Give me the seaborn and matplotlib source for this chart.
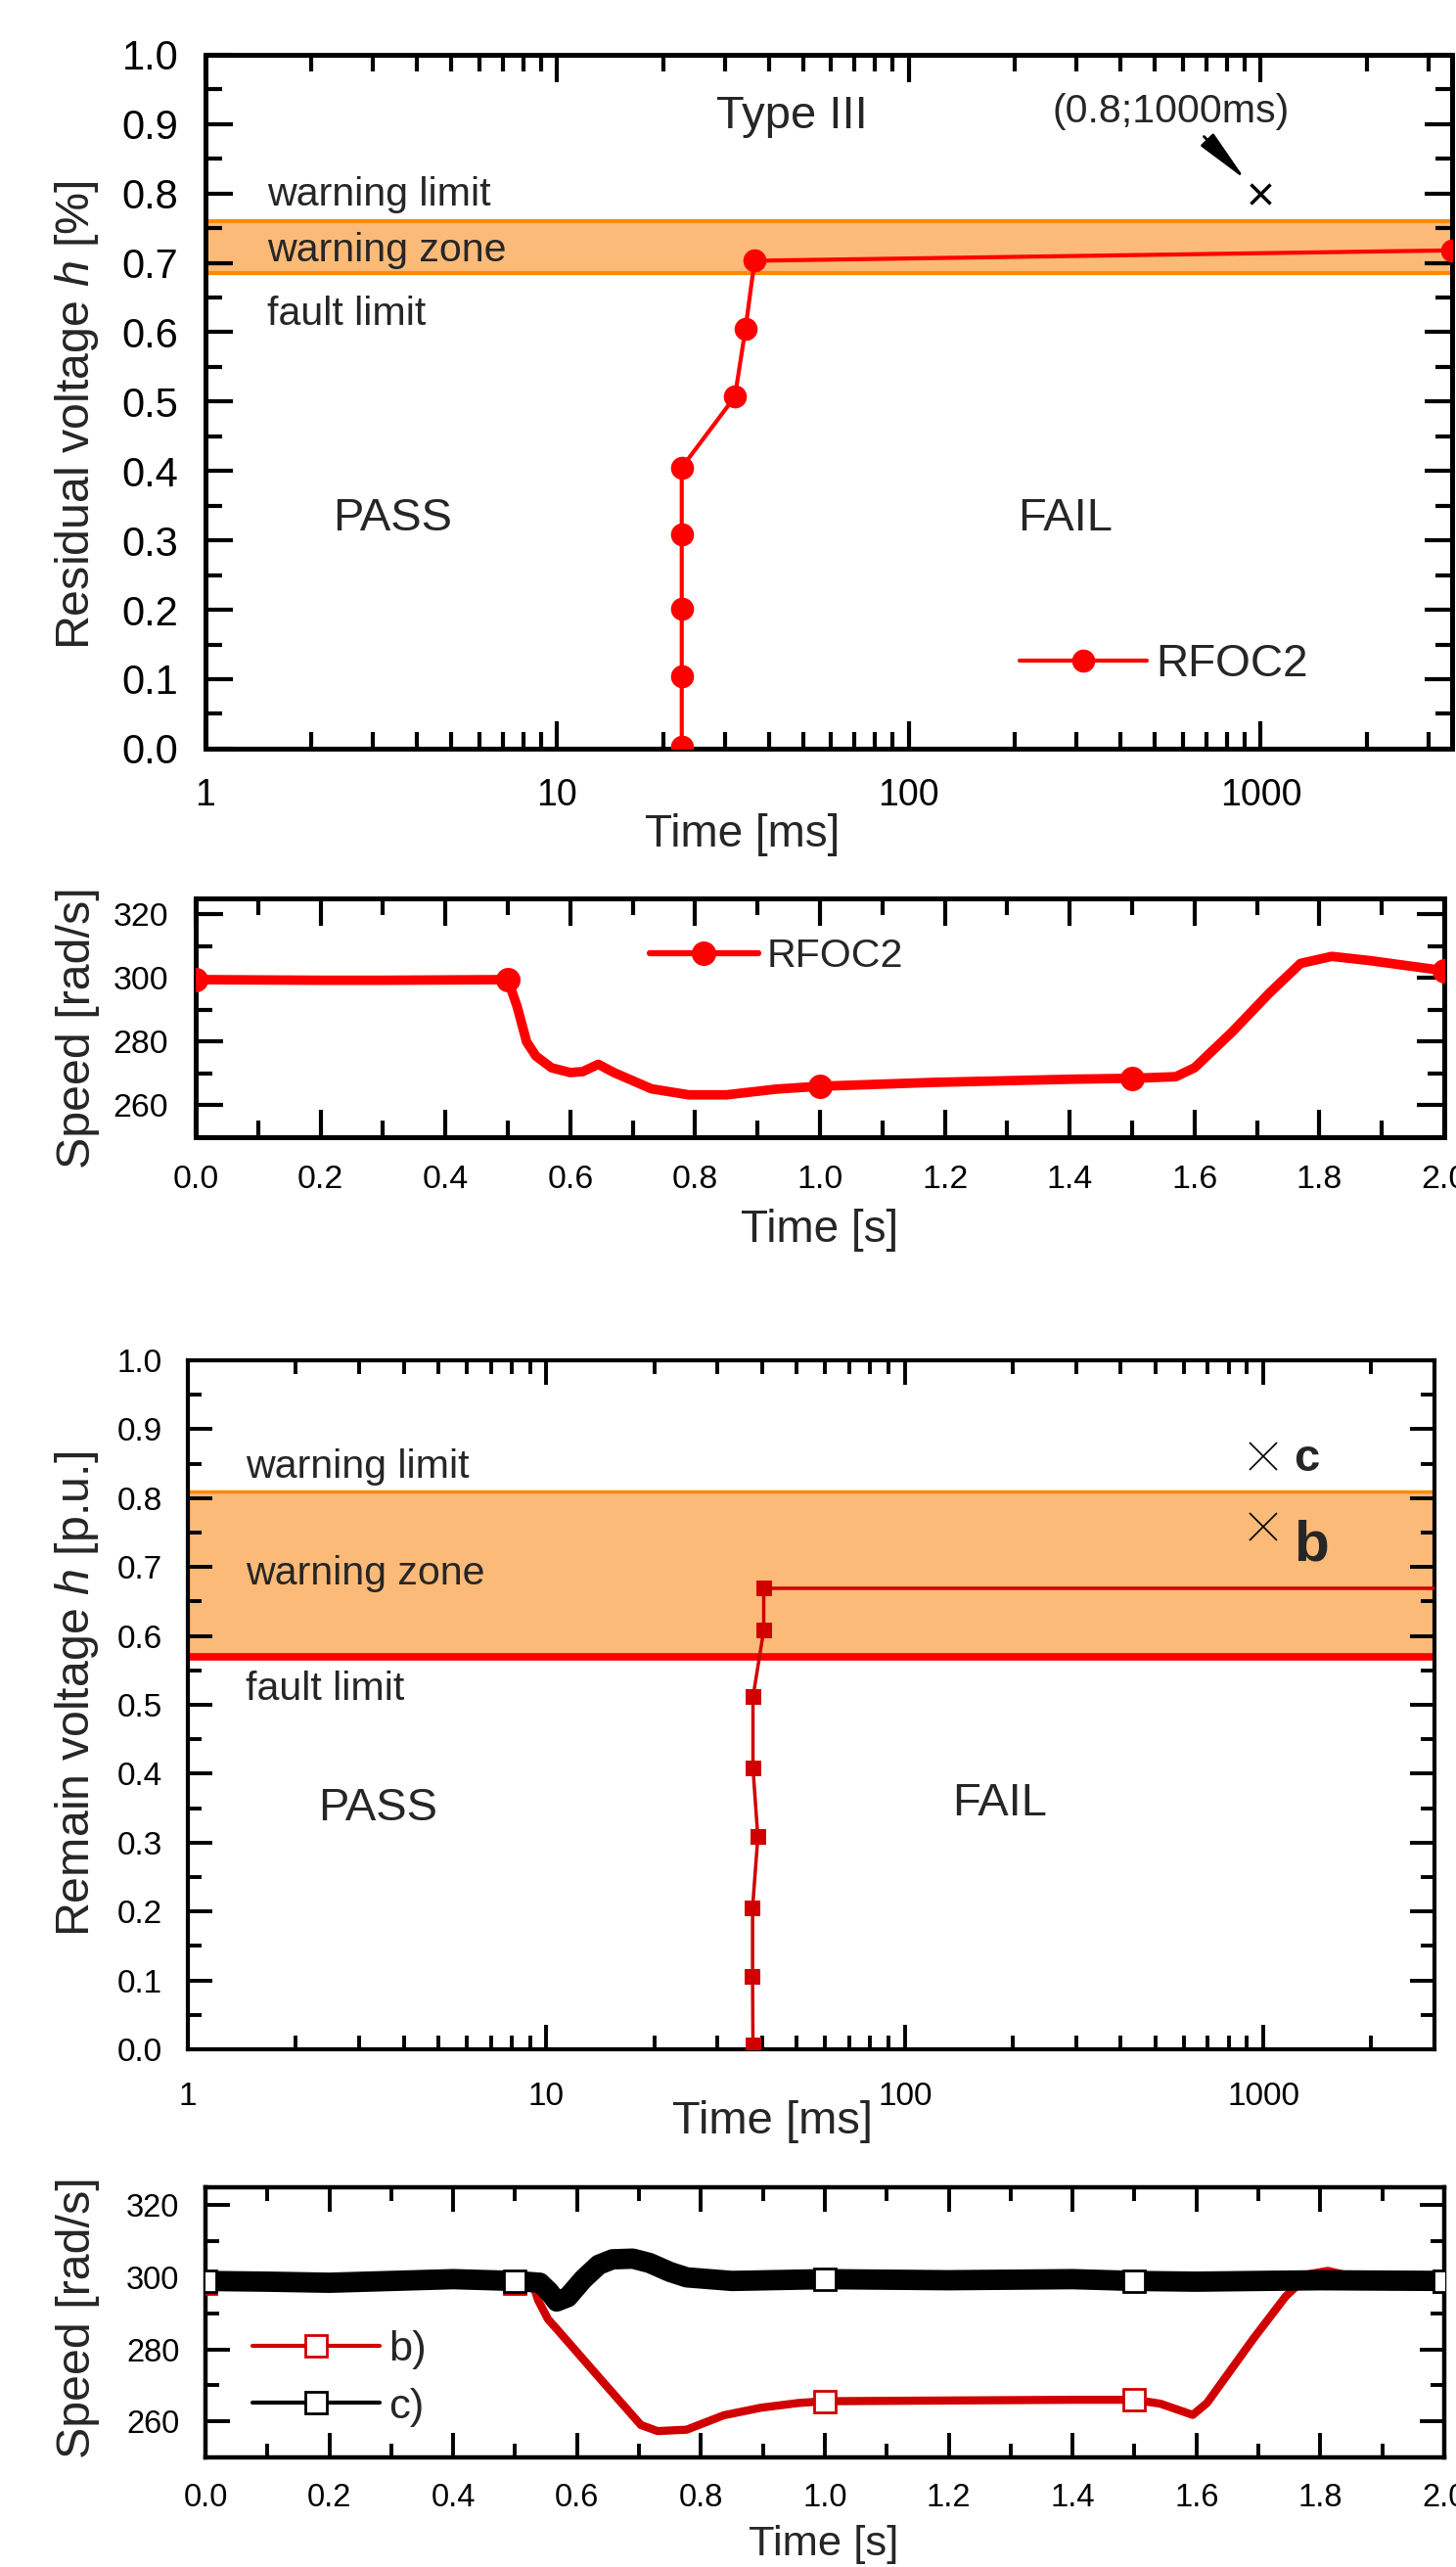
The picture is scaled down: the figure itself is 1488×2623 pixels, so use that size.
import numpy as np
import pandas as pd
import matplotlib
matplotlib.use("Agg")
import matplotlib.pyplot as plt
from matplotlib import font_manager
from matplotlib.ticker import (FixedLocator, LogLocator, MultipleLocator,
                               NullFormatter, FormatStrFormatter, FixedFormatter)
import seaborn as sns

# ---------------- data ----------------
# Type III residual-voltage ride-through curve (RFOC2)
rfoc2_time_ms = [22.6, 22.6, 22.6, 22.6, 22.6, 32.0, 34.3, 36.4, 3500.0]
rfoc2_h = [0.002, 0.104, 0.202, 0.308, 0.405, 0.507, 0.605, 0.703, 0.718]
type3_zone = [0.685, 0.76]            # fault limit, warning limit
type3_point_ms = [1000.0]
type3_point_h = [0.8]

# rotor speed, RFOC2
speed_rfoc2_t = [0.0, 0.1, 0.2, 0.3, 0.4, 0.5, 0.515, 0.53, 0.545, 0.57, 0.6,
                 0.62, 0.645, 0.67, 0.73, 0.79, 0.85, 0.93, 1.0, 1.18, 1.4,
                 1.5, 1.57, 1.6, 1.66, 1.72, 1.77, 1.82, 1.88, 2.0]
speed_rfoc2_v = [299.5, 299.4, 299.3, 299.3, 299.4, 299.5, 291.0, 280.0, 275.5,
                 271.8, 270.3, 270.6, 272.9, 270.3, 265.2, 263.3, 263.3, 265.1,
                 266.0, 267.2, 268.2, 268.5, 269.0, 271.8, 283.0, 295.3, 304.6,
                 306.8, 305.5, 302.3]

# remain-voltage ride-through curve
remain_time_ms = [37.7, 37.6, 37.6, 38.9, 37.7, 37.7, 40.4, 40.4, 3000.0]
remain_h = [0.005, 0.105, 0.205, 0.308, 0.408, 0.511, 0.608, 0.669, 0.669]
remain_zone = [0.57, 0.81]            # fault limit, warning limit
case_ms = [1000.0, 1000.0]
case_h = [0.86, 0.758]
case_names = ["c", "b"]

# rotor speed, cases b) and c)
speed_b_t = [0.0, 0.1, 0.2, 0.3, 0.4, 0.5, 0.53, 0.537, 0.553, 0.567, 0.635,
             0.703, 0.73, 0.777, 0.837, 0.897, 0.957, 1.0, 1.2, 1.4, 1.5,
             1.542, 1.594, 1.617, 1.692, 1.744, 1.782, 1.812, 1.857, 1.9, 2.0]
speed_b_v = [298.5, 298.3, 298.5, 298.3, 298.5, 298.5, 297.5, 293.7, 288.4,
             285.7, 272.3, 259.0, 257.3, 257.7, 261.7, 263.8, 265.1, 265.6,
             265.8, 266.0, 266.0, 264.9, 261.8, 265.1, 283.0, 294.7, 300.9,
             301.8, 300.0, 299.2, 299.0]
speed_c_t = [0.0, 0.1, 0.2, 0.3, 0.4, 0.5, 0.54, 0.555, 0.567, 0.585, 0.61,
             0.635, 0.657, 0.69, 0.717, 0.75, 0.777, 0.85, 1.0, 1.2, 1.4, 1.5,
             1.6, 1.8, 2.0]
speed_c_v = [299.0, 298.8, 298.5, 299.0, 299.5, 299.0, 298.5, 296.0, 293.3,
             294.5, 299.5, 303.5, 305.0, 305.2, 304.0, 301.5, 300.0, 299.0,
             299.5, 299.2, 299.5, 299.0, 298.8, 299.2, 299.0]
marker_times = [0.0, 0.5, 1.0, 1.5, 2.0]

# ---------------- style ----------------
sns.set_style("ticks")
names = {f.name for f in font_manager.fontManager.ttflist}
NARROW = "Liberation Sans Narrow" if "Liberation Sans Narrow" in names else "Liberation Sans"
WIDE = "Liberation Sans"
# without a condensed face, the condensed labels are set a little smaller
K = 1.0 if NARROW != WIDE else 0.87
plt.rcParams["font.family"] = [NARROW, "DejaVu Sans"]
plt.rcParams["mathtext.fontset"] = "custom"
plt.rcParams["mathtext.rm"] = NARROW
plt.rcParams["mathtext.it"] = NARROW + ":italic"

RED = "#ff0000"
DARK_RED = "#d00000"
ZONE_FILL = "#fcba78"
ZONE_EDGE = "#ff8a00"

fig = plt.figure(figsize=(14.88, 26.23), dpi=100)
fig.patch.set_facecolor("white")


def frame(ax, spine_w=3.6, major=20, minor=12, tick_w=3.0):
    for s in ax.spines.values():
        s.set_visible(True)
        s.set_linewidth(spine_w)
        s.set_color("black")
    ax.tick_params(which="both", direction="in", top=True, right=True,
                   width=tick_w, colors="black")
    ax.tick_params(which="major", length=major)
    ax.tick_params(which="minor", length=minor)
    ax.set_facecolor("white")


def marker_idx(t):
    return [i for i, v in enumerate(t) if any(abs(v - m) < 1e-9 for m in marker_times)]


# ---------------- panel 1: residual voltage ----------------
ax1 = fig.add_axes([0.1411, 0.7084, 0.8562, 0.2703])
ax1.set_xscale("log")
ax1.set_xlim(1, 3500)
ax1.set_ylim(0, 1)
ax1.axhspan(type3_zone[0], type3_zone[1], color=ZONE_FILL, zorder=0, lw=0)
for yv in type3_zone:
    ax1.axhline(yv, color=ZONE_EDGE, lw=3, zorder=1)
sns.lineplot(x=rfoc2_time_ms, y=rfoc2_h, ax=ax1, estimator=None, sort=False,
             color=RED, lw=3, marker="o", markersize=17, markeredgewidth=0,
             label="RFOC2", zorder=5)
ax1.plot(type3_point_ms, type3_point_h, ls="none", marker="x", color="black",
         markersize=15, markeredgewidth=2.5, zorder=6)
ax1.annotate("", xy=(905, 0.82), xytext=(690, 0.882),
             arrowprops=dict(arrowstyle="-|>,head_length=1.7,head_width=0.28",
                             color="black", lw=2, shrinkA=0, shrinkB=0,
                             mutation_scale=20))
ax1.text(554, 0.902, "(0.8;1000ms)", ha="center", va="baseline", fontsize=34 * K)
ax1.text(46.6, 0.894, "Type III", ha="center", va="baseline", fontsize=39 * K)
ax1.text(1.5, 0.782, "warning limit", ha="left", va="baseline", fontsize=34 * K)
ax1.text(1.5, 0.702, "warning zone", ha="left", va="baseline", fontsize=34 * K)
ax1.text(1.5, 0.611, "fault limit", ha="left", va="baseline", fontsize=34 * K)
ax1.text(3.4, 0.315, "PASS", ha="center", va="baseline", fontsize=39 * K)
ax1.text(279, 0.315, "FAIL", ha="center", va="baseline", fontsize=39 * K)

frame(ax1)
ax1.xaxis.set_major_locator(FixedLocator([1, 10, 100, 1000]))
ax1.xaxis.set_major_formatter(FixedFormatter(["1", "10", "100", "1000"]))
ax1.xaxis.set_minor_locator(LogLocator(base=10, subs=np.arange(2, 10), numticks=30))
ax1.xaxis.set_minor_formatter(NullFormatter())
ax1.yaxis.set_major_locator(MultipleLocator(0.1))
ax1.yaxis.set_minor_locator(MultipleLocator(0.05))
ax1.yaxis.set_major_formatter(FormatStrFormatter("%.1f"))
ax1.tick_params(axis="y", which="major", labelsize=30, pad=20, labelfontfamily=WIDE)
ax1.tick_params(axis="x", which="major", labelsize=27, pad=22, labelfontfamily=WIDE)
ax1.set_xlabel("Time [ms]", fontsize=38 * K)
ax1.xaxis.set_label_coords(0.431, -0.093)
ax1.set_ylabel("Residual voltage $h$ [%]", fontsize=40 * K)
ax1.yaxis.set_label_coords(-0.084, 0.48)
fs = 38 * K
leg = ax1.legend(loc="center left", bbox_to_anchor=(0.653, 0.121), frameon=False,
                 fontsize=fs, handlelength=130 / (fs * 100 / 72),
                 handletextpad=0.2, borderpad=0, borderaxespad=0)

# ---------------- panel 2: speed RFOC2 ----------------
ax2 = fig.add_axes([0.1344, 0.5570, 0.8575, 0.0930])
ax2.set_xlim(0, 2.0)
ax2.set_ylim(250, 325)
sns.lineplot(x=speed_rfoc2_t, y=speed_rfoc2_v, ax=ax2, estimator=None, sort=False,
             color=RED, lw=7, marker="o", markersize=18, markeredgewidth=0,
             markevery=marker_idx(speed_rfoc2_t), label="RFOC2", zorder=5)
frame(ax2)
ax2.xaxis.set_major_locator(MultipleLocator(0.2))
ax2.xaxis.set_minor_locator(MultipleLocator(0.1))
ax2.xaxis.set_major_formatter(FormatStrFormatter("%.1f"))
ax2.yaxis.set_major_locator(MultipleLocator(20))
ax2.yaxis.set_minor_locator(MultipleLocator(10))
ax2.tick_params(axis="both", which="major", labelsize=28 * K, pad=20)
ax2.set_xlabel("Time [s]", fontsize=38 * K)
ax2.xaxis.set_label_coords(0.5, -0.30)
ax2.set_ylabel("Speed [rad/s]", fontsize=40 * K)
ax2.yaxis.set_label_coords(-0.077, 0.459)
fs = 34 * K
leg2 = ax2.legend(loc="center left", bbox_to_anchor=(0.3636, 0.758), frameon=False,
                  fontsize=fs, handlelength=111 / (fs * 100 / 72),
                  handletextpad=0.2, borderpad=0, borderaxespad=0)
for ln in leg2.get_lines():
    ln.set_linewidth(4.5)

# ---------------- panel 3: remain voltage ----------------
ax3 = fig.add_axes([0.1290, 0.2017, 0.8562, 0.2684])
ax3.set_xscale("log")
ax3.set_xlim(1, 3000)
ax3.set_ylim(0, 1)
ax3.axhspan(remain_zone[0], remain_zone[1], color=ZONE_FILL, zorder=0, lw=0)
ax3.axhline(remain_zone[1], color=ZONE_EDGE, lw=2.5, zorder=1)
ax3.axhline(remain_zone[0], color=RED, lw=5.5, zorder=1)
sns.lineplot(x=remain_time_ms, y=remain_h, ax=ax3, estimator=None, sort=False,
             color=DARK_RED, lw=2.5, marker="s", markersize=12, markeredgewidth=0,
             markevery=list(range(len(remain_h) - 1)), zorder=5)
ax3.plot(case_ms, case_h, ls="none", marker="x", color="black",
         markersize=20, markeredgewidth=1.2, zorder=6)
ax3.text(1216, 0.84, case_names[0], ha="left", va="baseline", fontsize=34,
         fontweight="bold", family=WIDE)
ax3.text(1216, 0.709, case_names[1], ha="left", va="baseline", fontsize=42,
         fontweight="bold", family=WIDE)
ax3.text(1.45, 0.83, "warning limit", ha="left", va="baseline", fontsize=34 * K)
ax3.text(1.45, 0.675, "warning zone", ha="left", va="baseline", fontsize=34 * K)
ax3.text(1.45, 0.507, "fault limit", ha="left", va="baseline", fontsize=34 * K)
ax3.text(3.39, 0.332, "PASS", ha="center", va="baseline", fontsize=39 * K)
ax3.text(184, 0.339, "FAIL", ha="center", va="baseline", fontsize=39 * K)

frame(ax3, spine_w=3.0, major=18, minor=10, tick_w=2.8)
ax3.xaxis.set_major_locator(FixedLocator([1, 10, 100, 1000]))
ax3.xaxis.set_major_formatter(FixedFormatter(["1", "10", "100", "1000"]))
ax3.xaxis.set_minor_locator(LogLocator(base=10, subs=np.arange(2, 10), numticks=30))
ax3.xaxis.set_minor_formatter(NullFormatter())
ax3.yaxis.set_major_locator(MultipleLocator(0.1))
ax3.yaxis.set_minor_locator(MultipleLocator(0.05))
ax3.yaxis.set_major_formatter(FormatStrFormatter("%.1f"))
ax3.tick_params(axis="both", which="major", labelsize=24, pad=19, labelfontfamily=WIDE)
ax3.tick_params(axis="x", which="major", pad=24)
ax3.set_xlabel("Time [ms]", fontsize=39 * K)
ax3.xaxis.set_label_coords(0.469, -0.074)
ax3.set_ylabel("Remain voltage $h$ [p.u.]", fontsize=40 * K)
ax3.yaxis.set_label_coords(-0.070, 0.516)

# ---------------- panel 4: speed cases b) and c) ----------------
ax4 = fig.add_axes([0.1411, 0.0427, 0.8508, 0.1052])
ax4.set_xlim(0, 2.0)
ax4.set_ylim(250, 325)
sns.lineplot(x=speed_b_t, y=speed_b_v, ax=ax4, estimator=None, sort=False,
             color=DARK_RED, lw=6, marker="s", markersize=16, markeredgewidth=2,
             markerfacecolor="white", markeredgecolor=DARK_RED,
             markevery=marker_idx(speed_b_t), label="b)", zorder=4)
sns.lineplot(x=speed_c_t, y=speed_c_v, ax=ax4, estimator=None, sort=False,
             color="black", lw=15, marker="s", markersize=16, markeredgewidth=2,
             markerfacecolor="white", markeredgecolor="black",
             markevery=marker_idx(speed_c_t), label="c)", zorder=5)
frame(ax4, spine_w=3.2, major=18, minor=10, tick_w=2.8)
ax4.xaxis.set_major_locator(MultipleLocator(0.2))
ax4.xaxis.set_minor_locator(MultipleLocator(0.1))
ax4.xaxis.set_major_formatter(FormatStrFormatter("%.1f"))
ax4.yaxis.set_major_locator(MultipleLocator(20))
ax4.yaxis.set_minor_locator(MultipleLocator(10))
ax4.tick_params(axis="both", which="major", labelsize=27 * K, pad=19)
ax4.set_xlabel("Time [s]", fontsize=36 * K)
ax4.xaxis.set_label_coords(0.499, -0.25)
ax4.set_ylabel("Speed [rad/s]", fontsize=40 * K)
ax4.yaxis.set_label_coords(-0.085, 0.518)
fs = 36 * K
leg4 = ax4.legend(loc="center left", bbox_to_anchor=(0.038, 0.293), frameon=False,
                  fontsize=fs, handlelength=130 / (fs * 100 / 72),
                  handletextpad=0.2, labelspacing=0.43,
                  borderpad=0, borderaxespad=0)
for ln in leg4.get_lines():
    ln.set_linewidth(3)

fig.savefig("out.png", dpi=100, facecolor="white")
